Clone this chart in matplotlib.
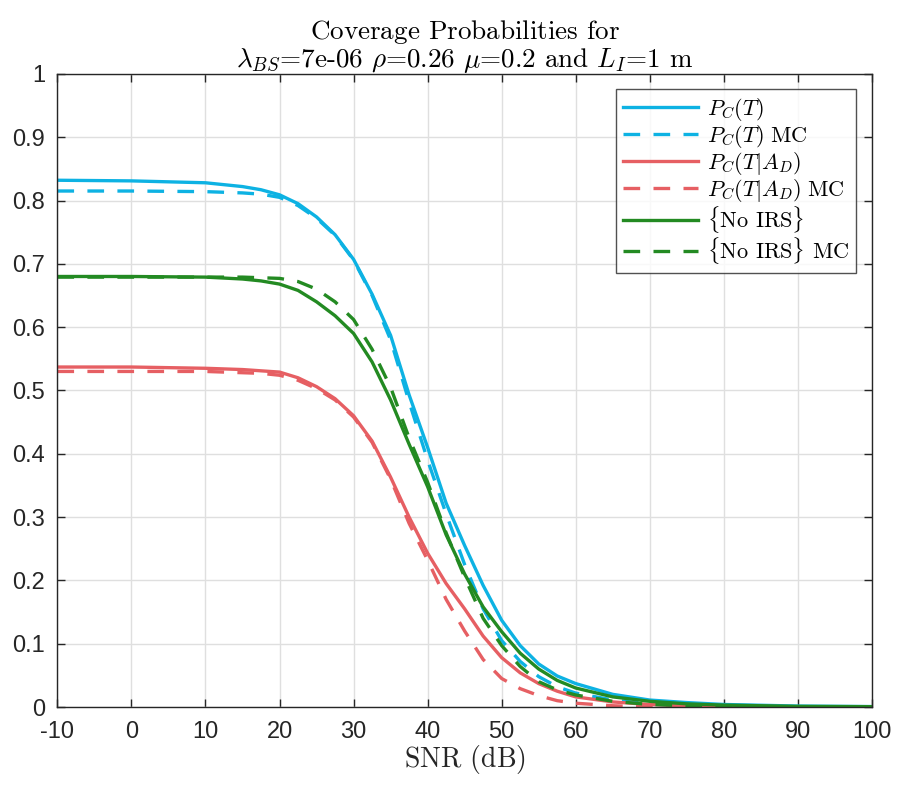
import numpy as np
import matplotlib
matplotlib.use('Agg')
import matplotlib.pyplot as plt

plt.rcParams['mathtext.fontset'] = 'cm'
plt.rcParams['font.family'] = ['Liberation Sans', 'DejaVu Sans']
plt.rcParams['axes.unicode_minus'] = False

# SNR grid (dB)
snr = [-10, 0, 10, 15, 17.5, 20, 22.5, 25, 27.5, 30, 32.5, 35, 37.5, 40, 42.5, 45,
       47.5, 50, 52.5, 55, 57.5, 60, 65, 70, 75, 80, 90, 100]

pc = [0.832, 0.831, 0.828, 0.822, 0.817, 0.809, 0.795, 0.774, 0.746, 0.707, 0.652, 0.587,
      0.493, 0.410, 0.322, 0.255, 0.192, 0.137, 0.097, 0.068, 0.049, 0.037, 0.020,
      0.011, 0.007, 0.004, 0.0015, 0.0007]
pc_mc = [0.815, 0.815, 0.814, 0.812, 0.810, 0.805, 0.792, 0.772, 0.745, 0.706, 0.650, 0.580,
         0.482, 0.390, 0.305, 0.225, 0.155, 0.105, 0.072, 0.048, 0.032, 0.022, 0.011,
         0.005, 0.002, 0.001, 0.0, 0.0]
pcad = [0.537, 0.537, 0.535, 0.533, 0.531, 0.529, 0.520, 0.506, 0.487, 0.460, 0.420, 0.363,
        0.300, 0.243, 0.195, 0.155, 0.112, 0.078, 0.054, 0.037, 0.025, 0.016, 0.008,
        0.004, 0.002, 0.001, 0.0005, 0.0002]
pcad_mc = [0.530, 0.530, 0.530, 0.528, 0.527, 0.524, 0.516, 0.503, 0.485, 0.458, 0.418, 0.360,
           0.290, 0.232, 0.170, 0.120, 0.075, 0.045, 0.029, 0.018, 0.010, 0.006, 0.002,
           0.0, 0.0, 0.0, 0.0, 0.0]
noirs = [0.680, 0.680, 0.679, 0.676, 0.673, 0.668, 0.658, 0.640, 0.618, 0.590, 0.545, 0.485,
         0.415, 0.348, 0.272, 0.210, 0.158, 0.119, 0.085, 0.060, 0.042, 0.030, 0.016,
         0.009, 0.005, 0.003, 0.001, 0.0005]
noirs_mc = [0.679, 0.679, 0.679, 0.679, 0.678, 0.677, 0.672, 0.660, 0.640, 0.612, 0.565, 0.505,
            0.425, 0.355, 0.275, 0.205, 0.140, 0.097, 0.064, 0.040, 0.027, 0.019, 0.009,
            0.004, 0.002, 0.001, 0.0, 0.0]

blue = '#0db2e3'
red = '#e65f63'
green = '#238a22'

fig = plt.figure(figsize=(8.97, 7.86), dpi=100)
ax = fig.add_axes([0.064, 0.1005, 0.908, 0.8055])

lw = 2.4
dash = (5, 4)
ax.plot(snr, pc, color=blue, lw=lw, label=r'$P_C(T)$')
ax.plot(snr, pc_mc, color=blue, lw=lw, ls='--', dashes=dash, label=r'$P_C(T)\ \text{MC}$')
ax.plot(snr, pcad, color=red, lw=lw, label=r'$P_C(T|A_D)$')
ax.plot(snr, pcad_mc, color=red, lw=lw, ls='--', dashes=dash, label=r'$P_C(T|A_D)\ \text{MC}$')
ax.plot(snr, noirs, color=green, lw=lw, label=r'$\text{\{No IRS\}}$')
ax.plot(snr, noirs_mc, color=green, lw=lw, ls='--', dashes=dash, label=r'$\text{\{No IRS\} MC}$')

ax.set_xlim(-10, 100)
ax.set_ylim(0, 1)
ax.set_xticks(np.arange(-10, 101, 10))
ax.set_yticks(np.arange(0, 1.01, 0.1))
ax.set_yticklabels(['0', '0.1', '0.2', '0.3', '0.4', '0.5', '0.6', '0.7', '0.8', '0.9', '1'])
ax.grid(True, color='#dfdfdf', lw=1)
ax.set_axisbelow(True)
ax.tick_params(direction='in', top=True, right=True, labelsize=17, colors='#262626',
               length=6, width=1)
ax.tick_params(axis='x', pad=10)
ax.tick_params(axis='y', pad=9)
for s in ax.spines.values():
    s.set_color('#262626')
    s.set_linewidth(1)

ax.set_xlabel(r'$\text{SNR (dB)}$', fontsize=20, color='#262626', labelpad=0)
ax.set_title(r'$\text{Coverage Probabilities for}$' + '\n' +
             r'$\lambda_{BS}\text{=7e-06 }\rho\text{=0.26 }\mu\text{=0.2 and }L_I\text{=1 m}$',
             fontsize=19.5, color='#000000', pad=5, linespacing=1.0)

leg = ax.legend(loc='upper right', fontsize=16, frameon=True, fancybox=False,
                edgecolor='#262626', handlelength=3.4, borderaxespad=0.7,
                labelspacing=0.0, handletextpad=0.4, borderpad=0.3)
leg.get_frame().set_linewidth(1)

fig.savefig('out.png', dpi=100)
